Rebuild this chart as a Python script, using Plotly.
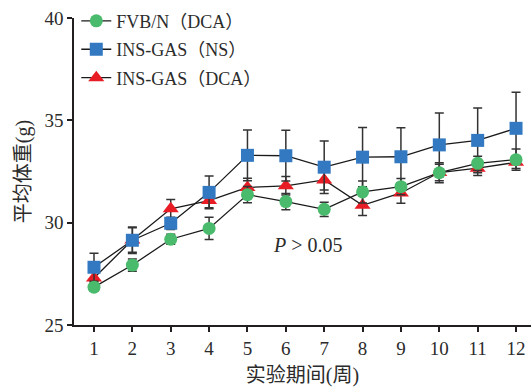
import plotly.graph_objects as go

weeks = [1, 2, 3, 4, 5, 6, 7, 8, 9, 10, 11, 12]
week_labels = ["1", "2", "3", "4", "5", "6", "7", "8", "9", "10", "11", "12"]

fvb_dca = [26.85, 27.93, 29.19, 29.72, 31.37, 31.03, 30.65, 31.5, 31.76, 32.44, 32.9, 33.08]
fvb_dca_err = [0.2, 0.3, 0.25, 0.54, 0.4, 0.4, 0.35, 0.54, 0.4, 0.49, 0.35, 0.52]

ins_ns = [27.82, 29.14, 29.97, 31.48, 33.29, 33.27, 32.71, 33.2, 33.22, 33.8, 34.02, 34.61]
ins_ns_err = [0.68, 0.65, 0.3, 0.8, 1.24, 1.24, 1.28, 1.45, 1.42, 1.56, 1.58, 1.76]

ins_dca = [27.3, 29.15, 30.68, 31.08, 31.72, 31.8, 32.09, 30.85, 31.45, 32.45, 32.66, 32.95]
ins_dca_err = [0.3, 0.6, 0.45, 0.35, 0.45, 0.45, 0.5, 0.5, 0.5, 0.4, 0.35, 0.3]

names = ["FVB/N（DCA）", "INS-GAS（NS）", "INS-GAS（DCA）"]

FONT = "Liberation Serif, Noto Sans CJK SC, serif"
TXT = "#2b2b2b"
AX = "#231f20"

fig = go.Figure()

def add(y, err, name, color, symbol, size, rank):
    fig.add_trace(go.Scatter(
        x=weeks, y=y, name=name, mode="lines+markers",
        line=dict(color="#1a1a1a", width=1.3),
        marker=dict(color=color, symbol=symbol, size=size, line=dict(width=0)),
        error_y=dict(type="data", array=err, visible=True, color="#333333",
                     thickness=1.5, width=4.5),
        legendrank=rank, legendgroup=name, cliponaxis=False,
    ))

add(ins_dca, ins_dca_err, names[2], "#e81c24", "triangle-up", 14, 3)
add(ins_ns, ins_ns_err, names[1], "#3279c2", "square", 13, 2)
add(fvb_dca, fvb_dca_err, names[0], "#4abb6c", "circle", 13, 1)

fig.add_annotation(x=5.62, y=28.93, xref="x", yref="y", xanchor="left", yanchor="middle",
                   text="<i>P</i> > 0.05", showarrow=False,
                   font=dict(family=FONT, size=20, color=TXT))

fig.update_layout(
    width=532, height=391,
    margin=dict(l=74, r=1, t=18, b=66),
    paper_bgcolor="white", plot_bgcolor="white",
    font=dict(family=FONT, size=19, color=TXT),
    showlegend=True,
    legend=dict(x=0.005, y=1.05, xanchor="left", yanchor="top",
                bgcolor="rgba(0,0,0,0)", font=dict(family=FONT, size=18, color=TXT),
                itemwidth=30, tracegroupgap=2),
    xaxis=dict(range=[0.479, 12.39], tickmode="array", tickvals=weeks, ticktext=week_labels,
               showline=True, linecolor=AX, linewidth=1.5, ticks="outside", ticklen=5,
               tickwidth=1.5, tickcolor=AX, showgrid=False, zeroline=False,
               tickfont=dict(family=FONT, size=19, color=TXT),
               title=dict(text="实验期间(周)", font=dict(family=FONT, size=20, color=TXT), standoff=10)),
    yaxis=dict(range=[25, 40], tickvals=[25, 30, 35, 40],
               showline=True, linecolor=AX, linewidth=1.5, ticks="outside", ticklen=5,
               tickwidth=1.5, tickcolor=AX, showgrid=False, zeroline=False,
               tickfont=dict(family=FONT, size=19, color=TXT),
               title=dict(text="平均体重(g)", font=dict(family=FONT, size=20, color=TXT), standoff=8)),
)

# remove the default 8px page margin so the figure fills the window exactly
fig.write_html("out.html", config={"displayModeBar": False},
               post_script="document.body.style.margin='0px';")
